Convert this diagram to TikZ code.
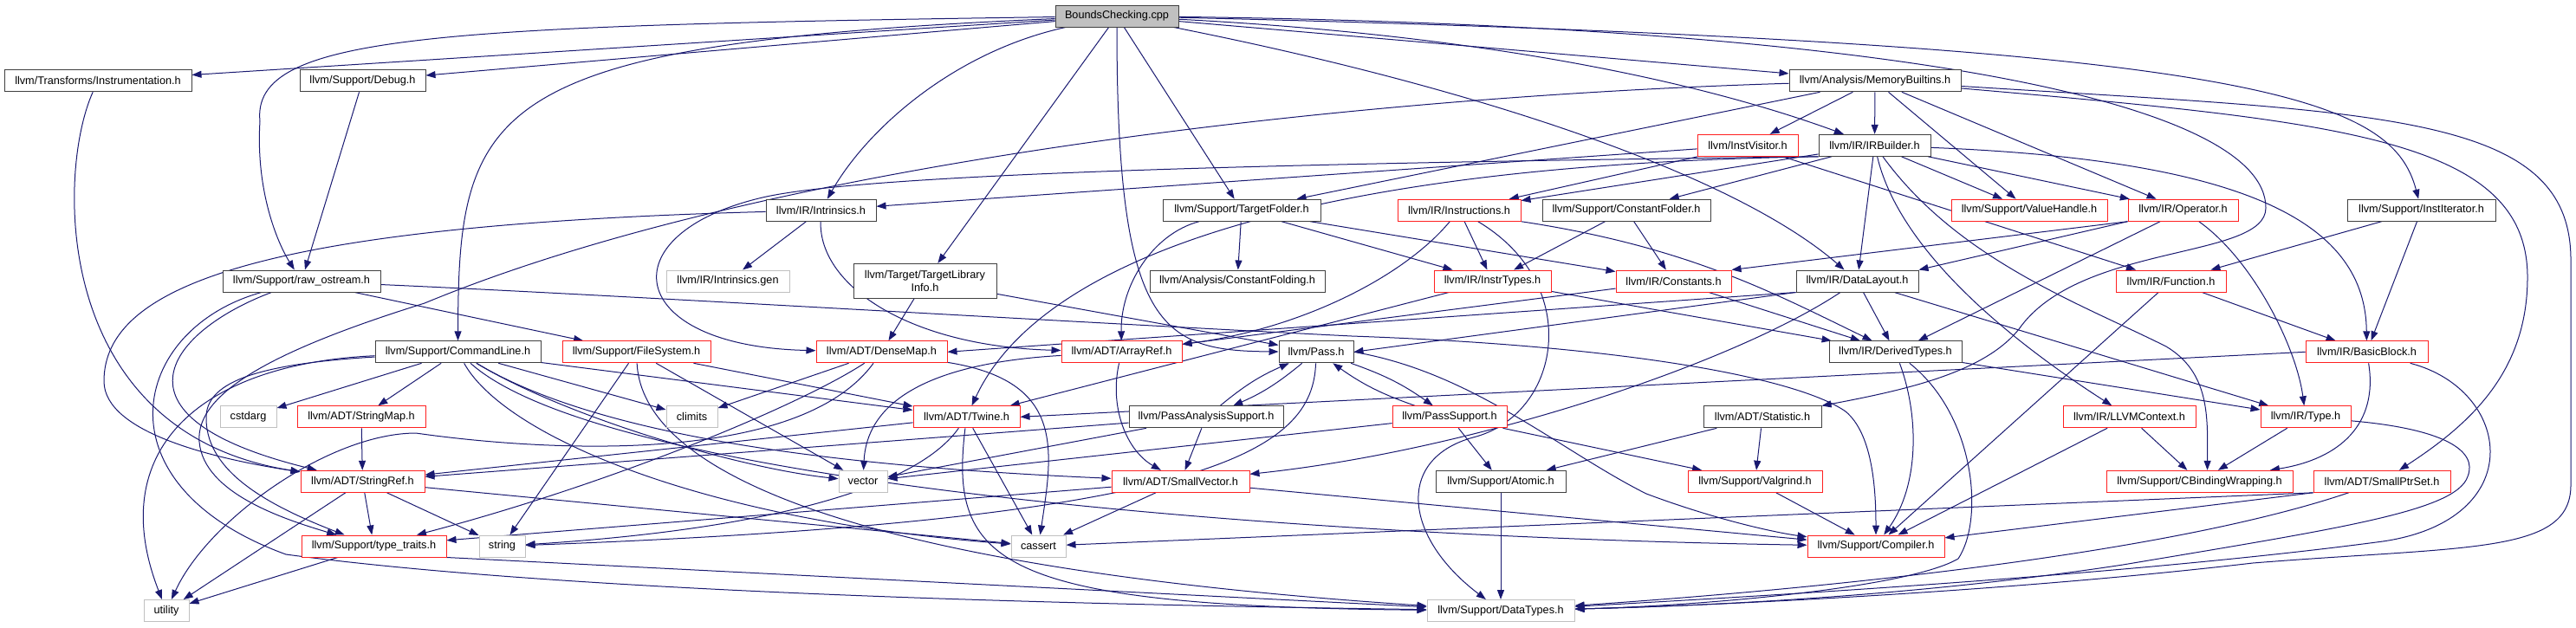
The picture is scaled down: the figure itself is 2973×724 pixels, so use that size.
\documentclass[tikz,border=0pt]{standalone}
\usepackage{fontspec}
\setmainfont{Liberation Sans}
\usetikzlibrary{arrows.meta}
\definecolor{edgec}{HTML}{191970}
\definecolor{boxk}{HTML}{404040}
\definecolor{boxr}{HTML}{FF2020}
\definecolor{boxg}{HTML}{C0C0C0}
\pgfdeclarelayer{bg}
\pgfsetlayers{bg,main}
\begin{document}
\begin{tikzpicture}[x=1pt,y=-1pt,
  nd/.style={rectangle, inner sep=0pt, minimum height=25pt, font=\fontsize{12.7}{14.5}\selectfont, fill=white, line width=1pt},
  kb/.style={nd, draw=boxk},
  rb/.style={nd, draw=boxr},
  gb/.style={nd, draw=boxg},
  edg/.style={draw=edgec, line width=1pt, -{Triangle[length=11pt,width=8pt]}}]
\path[use as bounding box] (0,0) rectangle (2973,724);
% row 0
\node[kb, fill=boxg, minimum width=142pt] (BCpp) at (1289,18.5) {BoundsChecking.cpp};
% row 1
\node[kb, minimum width=216pt] (Instr) at (113,93.3) {llvm/Transforms/Instrumentation.h};
\node[kb, minimum width=145pt] (Debug) at (418.5,93.3) {llvm/Support/Debug.h};
\node[kb, minimum width=198pt] (MemB) at (2164,93.3) {llvm/Analysis/MemoryBuiltins.h};
% row 2
\node[rb, minimum width=116pt] (InstVisitor) at (2017,167.8) {llvm/InstVisitor.h};
\node[kb, minimum width=129pt] (IRBuilder) at (2163.5,167.8) {llvm/IR/IRBuilder.h};
% row 3
\node[kb, minimum width=127pt] (Intrinsics) at (947.5,242.7) {llvm/IR/Intrinsics.h};
\node[kb, minimum width=182pt] (TargetFolder) at (1433,242.7) {llvm/Support/TargetFolder.h};
\node[rb, minimum width=142pt] (Instructions) at (1684,242.7) {llvm/IR/Instructions.h};
\node[kb, minimum width=194pt] (ConstantFolder) at (1877,242.7) {llvm/Support/ConstantFolder.h};
\node[rb, minimum width=180pt] (ValueHandle) at (2342,242.7) {llvm/Support/ValueHandle.h};
\node[rb, minimum width=127pt] (Operator) at (2519.5,242.7) {llvm/IR/Operator.h};
\node[kb, minimum width=171pt] (InstIterator) at (2794.5,242.7) {llvm/Support/InstIterator.h};
% row 4
\node[kb, minimum width=182pt] (rawostream) at (348,324.5) {llvm/Support/raw\_ostream.h};
\node[gb, minimum width=142pt] (IntrGen) at (840,324.5) {llvm/IR/Intrinsics.gen};
\node[kb, minimum width=165pt, minimum height=40pt, align=center] (TLI) at (1067.5,324.3) {llvm/Target/TargetLibrary\\Info.h};
\node[kb, minimum width=202pt] (ConstFolding) at (1428,324.5) {llvm/Analysis/ConstantFolding.h};
\node[rb, minimum width=135pt] (InstrTypes) at (1722.5,324.5) {llvm/IR/InstrTypes.h};
\node[rb, minimum width=133pt] (Constants) at (1931.5,324.5) {llvm/IR/Constants.h};
\node[kb, minimum width=141pt] (DataLayout) at (2143.5,324.5) {llvm/IR/DataLayout.h};
\node[rb, minimum width=127pt] (Function) at (2505.5,324.5) {llvm/IR/Function.h};
% row 5
\node[kb, minimum width=191pt] (CommandLine) at (528.5,406.3) {llvm/Support/CommandLine.h};
\node[rb, minimum width=171pt] (FileSystem) at (734.5,406.3) {llvm/Support/FileSystem.h};
\node[rb, minimum width=151pt] (DenseMap) at (1017.5,406.3) {llvm/ADT/DenseMap.h};
\node[rb, minimum width=139pt] (ArrayRef) at (1294.5,406.3) {llvm/ADT/ArrayRef.h};
\node[kb, minimum width=86pt] (Pass) at (1519,406.3) {llvm/Pass.h};
\node[kb, minimum width=153pt] (DerivedTypes) at (2187.5,406.3) {llvm/IR/DerivedTypes.h};
\node[rb, minimum width=141pt] (BasicBlock) at (2731.5,406.3) {llvm/IR/BasicBlock.h};
% row 6
\node[gb, minimum width=65pt] (cstdarg) at (286.5,481.3) {cstdarg};
\node[rb, minimum width=148pt] (StringMap) at (417,481.3) {llvm/ADT/StringMap.h};
\node[gb, minimum width=59pt] (climits) at (798.5,481.3) {climits};
\node[rb, minimum width=123pt] (Twine) at (1115.5,481.3) {llvm/ADT/Twine.h};
\node[kb, minimum width=178pt] (PAS) at (1392,481.3) {llvm/PassAnalysisSupport.h};
\node[rb, minimum width=132pt] (PassSupport) at (1673,481.3) {llvm/PassSupport.h};
\node[kb, minimum width=136pt] (Statistic) at (2034,481.3) {llvm/ADT/Statistic.h};
\node[rb, minimum width=153pt] (LLVMContext) at (2457.5,481.3) {llvm/IR/LLVMContext.h};
\node[rb, minimum width=104pt] (Type) at (2661,481.3) {llvm/IR/Type.h};
% row 7
\node[rb, minimum width=143pt] (StringRef) at (418.5,555.8) {llvm/ADT/StringRef.h};
\node[gb, minimum width=56pt] (vector) at (996,555.8) {vector};
\node[rb, minimum width=159pt] (SmallVector) at (1362.5,555.8) {llvm/ADT/SmallVector.h};
\node[kb, minimum width=150pt] (Atomic) at (1732,555.8) {llvm/Support/Atomic.h};
\node[rb, minimum width=155pt] (Valgrind) at (2025.5,555.8) {llvm/Support/Valgrind.h};
\node[rb, minimum width=215pt] (CBinding) at (2538.5,555.8) {llvm/Support/CBindingWrapping.h};
\node[rb, minimum width=158pt] (SmallPtrSet) at (2749,555.8) {llvm/ADT/SmallPtrSet.h};
% row 8
\node[rb, minimum width=167pt] (typetraits) at (431.5,630.5) {llvm/Support/type\_traits.h};
\node[gb, minimum width=53pt] (string) at (579.5,630.5) {string};
\node[gb, minimum width=63pt] (cassert) at (1198.5,630.5) {cassert};
\node[rb, minimum width=158pt] (Compiler) at (2165,630.5) {llvm/Support/Compiler.h};
% row 9
\node[gb, minimum width=52pt] (utility) at (192,705) {utility};
\node[gb, minimum width=170pt] (DataTypes) at (1732,705) {llvm/Support/DataTypes.h};

\begin{pgfonlayer}{bg}
% BoundsChecking.cpp
\draw[edg] (BCpp) -- (Instr);
\draw[edg] (BCpp) -- (Debug);
\draw[edg] (BCpp) .. controls (500,30) and (290,40) .. (300,140) .. controls (295,220) and (320,280) .. (rawostream);
\draw[edg] (BCpp) .. controls (1100,60) and (1000,150) .. (Intrinsics);
\draw[edg] (BCpp) .. controls (560,50) and (529,120) .. (CommandLine);
\draw[edg] (BCpp) -- (TLI);
\draw[edg] (BCpp) .. controls (1289,380) and (1340,405) .. (Pass);
\draw[edg] (BCpp) -- (TargetFolder);
\draw[edg] (BCpp) -- (MemB);
\draw[edg] (BCpp) .. controls (1700,40) and (1950,90) .. (IRBuilder);
\draw[edg] (BCpp) .. controls (1700,100) and (2000,200) .. (DataLayout);
\draw[edg] (BCpp) .. controls (2600,50) and (2760,110) .. (InstIterator);
\draw[edg] (BCpp) .. controls (2200,30) and (2615,120) .. (2615,240) .. controls (2615,300) and (2400,280) .. (2330,380) .. controls (2290,430) and (2200,450) .. (Statistic);
% Instrumentation, Debug
\draw[edg] (Instr) .. controls (65,200) and (60,500) .. (StringRef);
\draw[edg] (Debug) -- (rawostream);
% MemoryBuiltins
\draw[edg] (MemB) -- (InstVisitor);
\draw[edg] (MemB) -- (IRBuilder);
\draw[edg] (MemB) -- (TargetFolder);
\draw[edg] (MemB) -- (ValueHandle);
\draw[edg] (MemB) -- (Operator);
\draw[edg] (MemB) .. controls (2700,140) and (2917,160) .. (2917,320) .. controls (2917,430) and (2850,490) .. (SmallPtrSet);
\draw[edg] (MemB) .. controls (2750,130) and (2967,130) .. (2967,300) -- (2967,560) .. controls (2967,640) and (2850,630) .. (2600,650) .. controls (2300,685) and (1950,700) .. (DataTypes);
\draw[edg] (MemB) .. controls (1600,110) and (900,180) .. (490,350) .. controls (330,400) and (225,450) .. (230,510) .. controls (235,570) and (330,600) .. (typetraits);
% InstVisitor
\draw[edg] (InstVisitor) -- (Instructions);
\draw[edg] (InstVisitor) -- (Function);
\draw[edg] (InstVisitor) -- (Intrinsics);
% IRBuilder
\draw[edg] (IRBuilder.south west) .. controls (1500,188) and (1000,200) .. (880,228) .. controls (700,270) and (720,400) .. (DenseMap);
\draw[edg] (IRBuilder.south west) .. controls (1500,190) and (1200,300) .. (Twine);
\draw[edg] (IRBuilder) -- (Instructions);
\draw[edg] (IRBuilder) -- (ConstantFolder);
\draw[edg] (IRBuilder) -- (ValueHandle);
\draw[edg] (IRBuilder) -- (Operator);
\draw[edg] (IRBuilder) -- (DataLayout);
\draw[edg] (IRBuilder) .. controls (2190,280) and (2300,380) .. (LLVMContext);
\draw[edg] (IRBuilder) .. controls (2260,300) and (2400,350) .. (2500,400) .. controls (2550,430) and (2548,480) .. ([xshift=9pt]CBinding.north);
\draw[edg] (IRBuilder) .. controls (2600,185) and (2730,260) .. (BasicBlock);
% Intrinsics
\draw[edg] (Intrinsics) -- (IntrGen);
\draw[edg] (Intrinsics) .. controls (945,330) and (1050,400) .. (ArrayRef);
\draw[edg] (Intrinsics) .. controls (300,260) and (120,330) .. (120,440) .. controls (120,500) and (250,530) .. (StringRef);
% TargetFolder
\draw[edg] (TargetFolder) .. controls (1330,270) and (1293,330) .. (ArrayRef);
\draw[edg] (TargetFolder) -- (ConstFolding);
\draw[edg] (TargetFolder) -- (InstrTypes);
\draw[edg] (TargetFolder) -- (Constants);
% Instructions
\draw[edg] (Instructions) -- (InstrTypes);
\draw[edg] (Instructions) .. controls (1620,320) and (1500,380) .. (ArrayRef);
\draw[edg] (Instructions.south east) .. controls (1950,285) and (2050,340) .. (DerivedTypes);
\draw[edg] (Instructions) .. controls (1830,330) and (1800,480) .. (1700,505) .. controls (1610,530) and (1620,620) .. (DataTypes);
% ConstantFolder
\draw[edg] (ConstantFolder) -- (InstrTypes);
\draw[edg] (ConstantFolder) -- (Constants);
% Operator
\draw[edg] (Operator.south west) -- (Constants.north east);
\draw[edg] (Operator.south west) -- (DataLayout.north east);
\draw[edg] (Operator) -- (DerivedTypes);
\draw[edg] (Operator) .. controls (2600,300) and (2650,400) .. (Type);
% InstIterator
\draw[edg] (InstIterator) -- (Function);
\draw[edg] (InstIterator) -- (BasicBlock);
% raw_ostream
\draw[edg] (rawostream) -- (FileSystem);
\draw[edg] (rawostream) .. controls (200,380) and (110,480) .. (StringRef);
\draw[edg] (rawostream) .. controls (150,380) and (110,560) .. (330,640) .. controls (700,690) and (1400,700) .. (DataTypes);
\draw[edg] (rawostream) .. controls (700,340) and (1200,370) .. (1560,388) .. controls (1900,400) and (2080,440) .. (2130,475) .. controls (2160,500) and (2165,560) .. (Compiler);
% TargetLibraryInfo
\draw[edg] (TLI) -- (DenseMap);
\draw[edg] (TLI) -- (Pass);
% DataLayout
\draw[edg] (DataLayout.south west) -- (DenseMap.east);
\draw[edg] (DataLayout.south west) -- (Pass.east);
\draw[edg] (DataLayout) .. controls (2000,420) and (1700,520) .. (SmallVector);
\draw[edg] (DataLayout) -- (DerivedTypes);
\draw[edg] (DataLayout) -- (Type);
% Function
\draw[edg] (Function) -- (BasicBlock);
\draw[edg] (Function) -- (Compiler);
% InstrTypes, Constants
\draw[edg] (InstrTypes) -- (Twine);
\draw[edg] (InstrTypes) -- (DerivedTypes);
\draw[edg] (Constants) -- (ArrayRef);
\draw[edg] (Constants) -- (DerivedTypes);
% CommandLine
\draw[edg] (CommandLine) -- (cstdarg);
\draw[edg] (CommandLine) -- (StringMap);
\draw[edg] (CommandLine) -- (climits);
\draw[edg] (CommandLine) .. controls (650,480) and (850,540) .. (vector);
\draw[edg] (CommandLine) .. controls (700,510) and (1000,540) .. (SmallVector);
\draw[edg] (CommandLine) -- (Twine);
\draw[edg] (CommandLine) .. controls (700,560) and (1500,620) .. (Compiler);
\draw[edg] (CommandLine) .. controls (300,420) and (240,440) .. (238,480) .. controls (236,540) and (300,580) .. (typetraits);
\draw[edg] (CommandLine) .. controls (230,420) and (120,520) .. (utility);
\draw[edg] (CommandLine) .. controls (580,500) and (800,600) .. (cassert);
% FileSystem
\draw[edg] (FileSystem) -- (string);
\draw[edg] (FileSystem) -- (vector);
\draw[edg] (FileSystem) -- (Twine);
\draw[edg] (FileSystem) .. controls (740,520) and (900,650) .. (DataTypes);
% DenseMap
\draw[edg] (DenseMap) -- (climits);
\draw[edg] (DenseMap) .. controls (920,470) and (700,560) .. (typetraits);
\draw[edg] (DenseMap) .. controls (920,540) and (620,520) .. (480,500) .. controls (380,500) and (240,600) .. (utility);
\draw[edg] (DenseMap) .. controls (1230,440) and (1215,520) .. (cassert);
% ArrayRef
\draw[edg] (ArrayRef) .. controls (1280,470) and (1300,520) .. (SmallVector);
\draw[edg] (ArrayRef) .. controls (1060,420) and (1000,470) .. (vector);
% Pass
\draw[edg] (Pass) to[bend left=8] (PAS);
\draw[edg] (PAS) to[bend left=8] (Pass);
\draw[edg] (Pass) to[bend left=8] (PassSupport);
\draw[edg] (PassSupport) to[bend left=8] (Pass);
\draw[edg] (Pass.east) .. controls (1700,430) and (1800,520) .. (1900,570) .. controls (1980,600) and (2050,615) .. (Compiler);
\draw[edg] (Pass) .. controls (1515,520) and (1400,600) .. (string);
% DerivedTypes
\draw[edg] (DerivedTypes) -- (Type);
\draw[edg] (DerivedTypes) .. controls (2215,480) and (2215,560) .. (Compiler);
\draw[edg] (DerivedTypes) .. controls (2280,480) and (2290,600) .. (2260,645) .. controls (2200,680) and (1950,700) .. (DataTypes);
% BasicBlock
\draw[edg] (BasicBlock.west) -- (Twine.east);
\draw[edg] (BasicBlock) .. controls (2745,490) and (2700,530) .. (CBinding);
\draw[edg] (BasicBlock) .. controls (2900,450) and (2920,600) .. (2750,625) .. controls (2450,665) and (2000,690) .. (DataTypes);
% StringMap, Twine
\draw[edg] (StringMap) -- (StringRef);
\draw[edg] (Twine) -- (StringRef);
\draw[edg] (Twine) -- (cassert);
\draw[edg] (Twine) .. controls (1060,560) and (900,610) .. (string);
\draw[edg] (Twine) .. controls (1095,650) and (1150,700) .. (DataTypes);
% PassAnalysisSupport, PassSupport
\draw[edg] (PAS) -- (SmallVector);
\draw[edg] (PAS) -- (vector);
\draw[edg] (PAS) -- (StringRef);
\draw[edg] (PassSupport) -- (Atomic);
\draw[edg] (PassSupport) -- (Valgrind);
\draw[edg] (PassSupport) -- (vector);
% Statistic
\draw[edg] (Statistic) -- (Atomic);
\draw[edg] (Statistic) -- (Valgrind);
% LLVMContext, Type
\draw[edg] (LLVMContext) -- (CBinding);
\draw[edg] (LLVMContext) -- (Compiler);
\draw[edg] (Type) -- (CBinding);
\draw[edg] (Type) .. controls (2820,495) and (2860,520) .. (2848,550) .. controls (2835,590) and (2700,610) .. (2450,652) .. controls (2200,690) and (1950,700) .. (DataTypes);
% StringRef
\draw[edg] (StringRef) -- (typetraits);
\draw[edg] (StringRef) -- (utility);
\draw[edg] (StringRef) -- (string);
\draw[edg] (StringRef) -- (cassert);
% SmallVector
\draw[edg] (SmallVector) -- (typetraits);
\draw[edg] (SmallVector) -- (cassert);
\draw[edg] (SmallVector) -- (Compiler);
% Atomic, Valgrind
\draw[edg] (Atomic) -- (DataTypes);
\draw[edg] (Valgrind) -- (Compiler);
% SmallPtrSet
\draw[edg] (SmallPtrSet.south west) -- (cassert);
\draw[edg] (SmallPtrSet.south west) -- (Compiler);
\draw[edg] (SmallPtrSet) .. controls (2500,640) and (2100,680) .. (DataTypes);
% type_traits
\draw[edg] (typetraits) -- (utility);
\draw[edg] (typetraits.south east) -- (DataTypes);
\end{pgfonlayer}
\end{tikzpicture}
\end{document}
